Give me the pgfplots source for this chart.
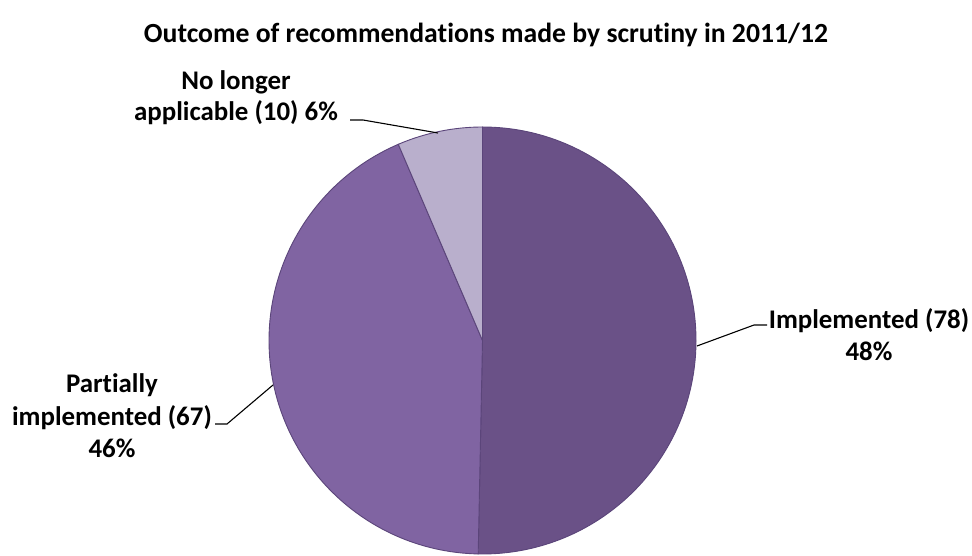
\documentclass[border=0pt]{standalone}
\usepackage{pgfplots}
\usepackage{pgfplotstable}
\pgfplotsset{compat=1.18}
\usepackage{fontspec}
\setmainfont[Ligatures={NoCommon}]{Carlito}
\definecolor{cImpl}{HTML}{6A5187}
\definecolor{cPart}{HTML}{8064A2}
\definecolor{cNone}{HTML}{B9AFCC}
\definecolor{cEdge}{HTML}{5B457A}
\pgfplotstableread{
name value pct
Implemented 78 48
Partially 67 46
NoLonger 10 6
}\piedata
\begin{document}
\begin{tikzpicture}
\pgfplotstablegetelem{0}{value}\of\piedata \pgfmathsetmacro{\va}{\pgfplotsretval}
\pgfplotstablegetelem{1}{value}\of\piedata \pgfmathsetmacro{\vb}{\pgfplotsretval}
\pgfplotstablegetelem{2}{value}\of\piedata \pgfmathsetmacro{\vc}{\pgfplotsretval}
\pgfmathsetmacro{\tot}{\va+\vb+\vc}
\pgfmathsetmacro{\aA}{90}
\pgfmathsetmacro{\aB}{90-360*(\va/\tot)}
\pgfmathsetmacro{\aC}{\aB-360*(\vb/\tot)}
\pgfmathsetmacro{\aD}{\aC-360*(\vc/\tot)}
\begin{axis}[x=1bp,y=1bp,xmin=0,xmax=972,ymin=0,ymax=553,hide axis,clip=false]
\path (axis cs:0,0) rectangle (axis cs:972,553);
\def\cx{482.5}\def\cy{212.5}\def\r{213.5bp}
\filldraw[fill=cImpl,draw=cEdge,line width=0.9bp] (axis cs:\cx,\cy) -- ++(\aA:\r) arc[start angle=\aA,end angle=\aB,radius=\r] -- cycle;
\filldraw[fill=cPart,draw=cEdge,line width=0.9bp] (axis cs:\cx,\cy) -- ++(\aB:\r) arc[start angle=\aB,end angle=\aC,radius=\r] -- cycle;
\filldraw[fill=cNone,draw=cEdge,line width=0.9bp] (axis cs:\cx,\cy) -- ++(\aC:\r) arc[start angle=\aC,end angle=\aD,radius=\r] -- cycle;
% leader lines
\draw[black,line width=1.1bp] (axis cs:697,207) -- (axis cs:754,228) -- (axis cs:767,228);
\draw[black,line width=1.1bp] (axis cs:273,168) -- (axis cs:227,129) -- (axis cs:215,129);
\draw[black,line width=1.1bp] (axis cs:438,420) -- (axis cs:363,433) -- (axis cs:350,433);
% labels
\node[anchor=base,font=\fontsize{27.8}{33}\selectfont\bfseries] at (axis cs:486,510) {Outcome of recommendations made by scrutiny in 2011/12};
\node[anchor=center,align=center,inner sep=0pt,font=\fontsize{27}{31}\selectfont\bfseries] at (axis cs:236,455) {No longer\\applicable (10) 6\%};
\node[anchor=center,align=center,inner sep=0pt,font=\fontsize{27}{32}\selectfont\bfseries] at (axis cs:869,218) {Implemented (78)\\48\%};
\node[anchor=center,align=center,inner sep=0pt,font=\fontsize{27}{32.5}\selectfont\bfseries] at (axis cs:112,137) {Partially\\implemented (67)\\46\%};
\end{axis}
\end{tikzpicture}
\end{document}
